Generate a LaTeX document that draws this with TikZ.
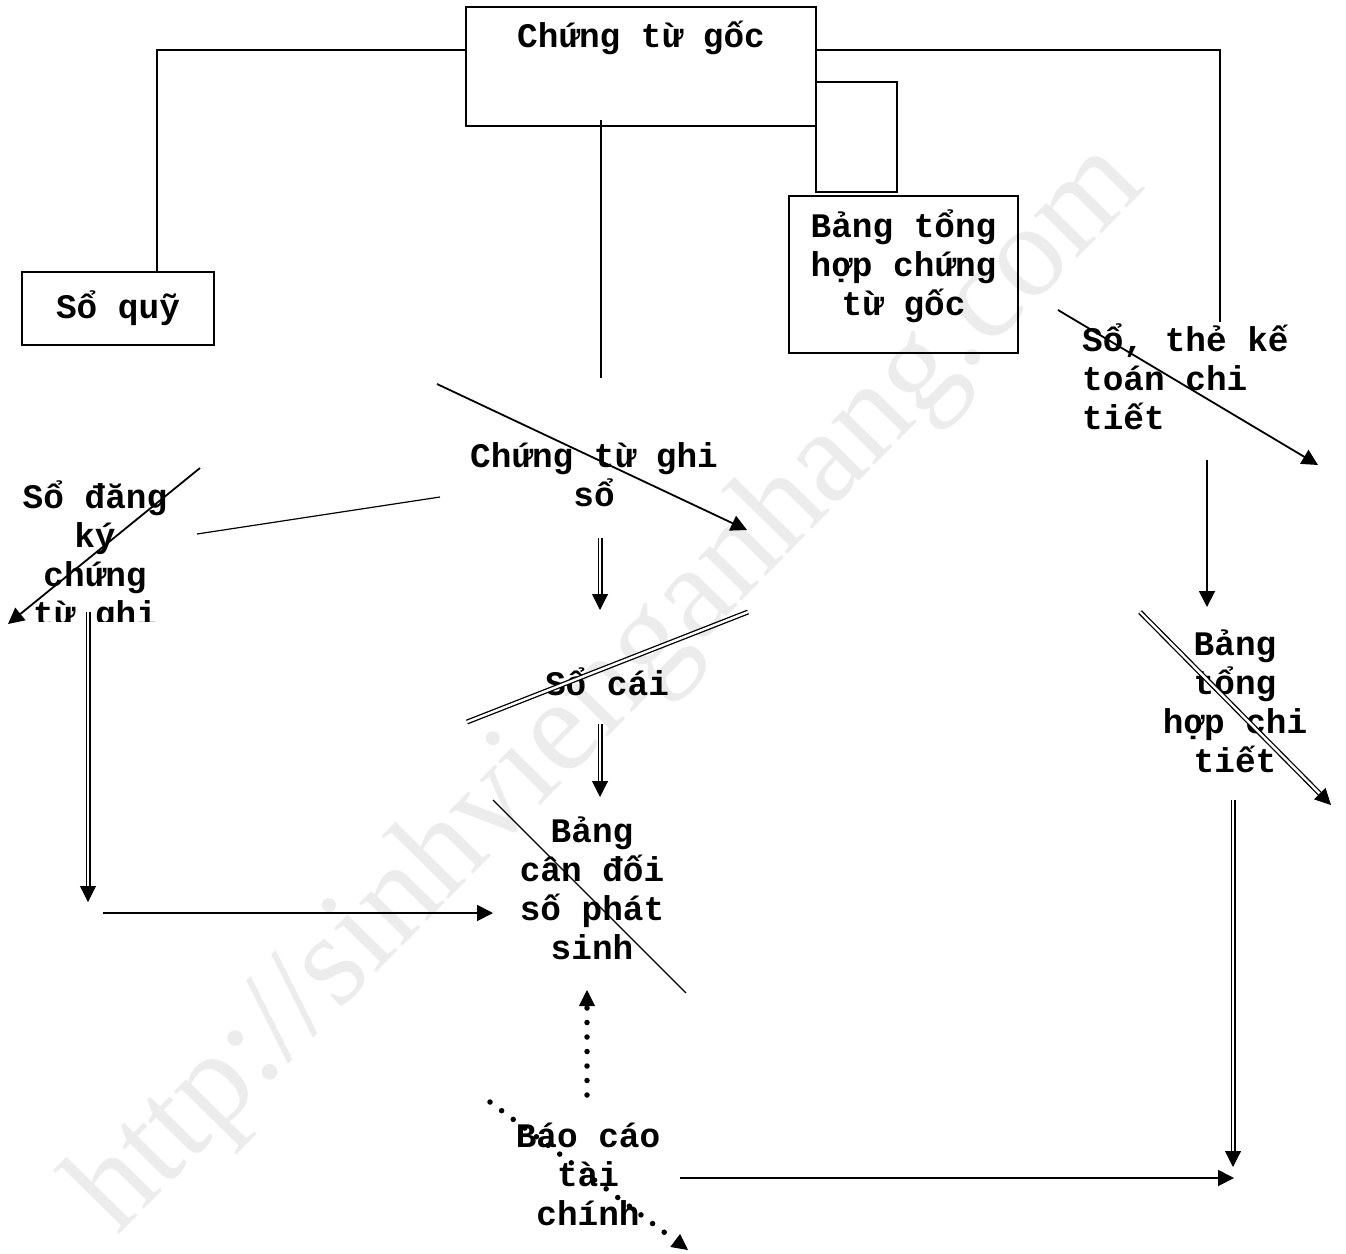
\documentclass[tikz,border=0pt]{standalone}
\usepackage{fontspec}
\newfontfamily\monob{Liberation Mono}
\newfontfamily\wmfont{Liberation Serif}
\usetikzlibrary{arrows.meta,calc}
\begin{document}
\begin{tikzpicture}[x=1pt,y=-1pt,
  txt/.style={font=\monob\bfseries\fontsize{34.4}{39}\selectfont, align=center, inner sep=0pt},
  boxn/.style={draw, line width=1.6pt, inner sep=0pt},
  ln/.style={line width=1.8pt},
  thinln/.style={line width=1.2pt},
  arr/.style={line width=1.8pt, -{Triangle[length=16pt,width=16pt]}},
  dbl/.style={double, double distance=2.4pt, line width=1.3pt},
  tipx/.style={line width=1pt, -{Triangle[length=16pt,width=16pt]}},
  dots/.style={line width=5.5pt, line cap=round, dash pattern=on 0pt off 14.5pt},
]
\useasboundingbox (0,0) rectangle (1346,1253);
% watermark
\node[font=\wmfont\fontsize{132}{132}\selectfont, text=gray!15, rotate=45.5] (wm) at (610,690) {http://sinhvienganhang.com};

% boxes
\node[boxn, minimum width=350pt, minimum height=119pt] (goc) at (641,66.5) {};
\node[txt] (goctxt) at (641,38) {Chứng từ gốc};
\node[boxn, minimum width=81pt, minimum height=110pt] (small) at (856.5,137) {};
\node[boxn, minimum width=229pt, minimum height=157pt] (bthg) at (903.5,274.5) {};
\node[txt] (bthgtxt) at (903.5,266) {Bảng tổng\\hợp chứng\\từ gốc};
\node[boxn, minimum width=192pt, minimum height=73pt, txt] (soquy) at (118,308.5) {Sổ quỹ};

% free texts
\node[txt] (ctgs) at (594,475) {Chứng từ ghi\\sổ};
\begin{scope}
\clip (0,440) rectangle (240,621);
\node[txt] (sdk) at (95,557) {Sổ đăng\\ký\\chứng\\từ ghi};
\end{scope}
\node[txt] (socai) at (607,682) {Sổ cái};
\node[txt] (bcd) at (592,888) {Bảng\\cân đối\\số phát\\sinh};
\node[txt] (bctc) at (588,1174) {Báo cáo\\tài\\chính};
\node[txt, align=left, anchor=west] (stkt) at (1082,377) {Sổ, thẻ kế\\toán chi\\tiết};
\node[txt] (bthct) at (1235,701) {Bảng\\tổng\\hợp chi\\tiết};

% coordinates
\coordinate (gl) at (466,50);
\coordinate (gr) at (816,50);
\coordinate (qtop) at (157,272);
\coordinate (rc) at (1220,322);
\coordinate (gdown1) at (601,120);
\coordinate (gdown2) at (601,378);
\coordinate (d1a) at (437,384);
\coordinate (d1b) at (747,530);
\coordinate (t1a) at (197,534);
\coordinate (t1b) at (440,497);
\coordinate (d2a) at (200,468);
\coordinate (d2b) at (8,624);
\coordinate (v1a) at (600,538);
\coordinate (v1b) at (600,610);
\coordinate (sca) at (467,722);
\coordinate (scb) at (748,612);
\coordinate (v2a) at (600,724);
\coordinate (v2b) at (600,797);
\coordinate (t2a) at (493,800);
\coordinate (t2b) at (686,993);
\coordinate (h1a) at (103,913);
\coordinate (h1b) at (493,913);
\coordinate (vla) at (88,612);
\coordinate (vlb) at (88,902);
\coordinate (dva) at (587,1095);
\coordinate (dvb) at (587,990);
\coordinate (dda) at (490,1102);
\coordinate (ddb) at (688,1250);
\coordinate (h2a) at (680,1178);
\coordinate (h2b) at (1234,1178);
\coordinate (vra) at (1233,800);
\coordinate (vrb) at (1233,1167);
\coordinate (v3a) at (1207,460);
\coordinate (v3b) at (1207,607);
\coordinate (d3a) at (1058,310);
\coordinate (d3b) at (1318,465);
\coordinate (d4a) at (1140,612);
\coordinate (d4b) at (1331,805);

% connectors
\draw[ln] (gl) -| (qtop);
\draw[ln] (gr) -| (rc);
\draw[ln] (gdown1) -- (gdown2);
\draw[arr] (d1a) -- (d1b);
\draw[thinln] (t1a) -- (t1b);
\draw[arr] (d2a) -- (d2b);
\draw[dbl, shorten >=14pt] (v1a) -- (v1b);
\draw[tipx] ($(v1b)!16pt!(v1a)$) -- (v1b);
\draw[dbl] (sca) -- (scb);
\draw[dbl, shorten >=14pt] (v2a) -- (v2b);
\draw[tipx] ($(v2b)!16pt!(v2a)$) -- (v2b);
\draw[thinln] (t2a) -- (t2b);
\draw[arr] (h1a) -- (h1b);
\draw[dbl, shorten >=14pt] (vla) -- (vlb);
\draw[tipx] ($(vlb)!16pt!(vla)$) -- (vlb);
\draw[dots, shorten >=18pt] (dva) -- (dvb);
\draw[tipx] ($(dvb)!16pt!(dva)$) -- (dvb);
\draw[dots, shorten >=18pt] (dda) -- (ddb);
\draw[tipx] ($(ddb)!16pt!(dda)$) -- (ddb);
\draw[arr] (h2a) -- (h2b);
\draw[dbl, shorten >=14pt] (vra) -- (vrb);
\draw[tipx] ($(vrb)!16pt!(vra)$) -- (vrb);
\draw[arr] (v3a) -- (v3b);
\draw[arr] (d3a) -- (d3b);
\draw[dbl, shorten >=14pt] (d4a) -- (d4b);
\draw[tipx] ($(d4b)!16pt!(d4a)$) -- (d4b);
\end{tikzpicture}
\end{document}
